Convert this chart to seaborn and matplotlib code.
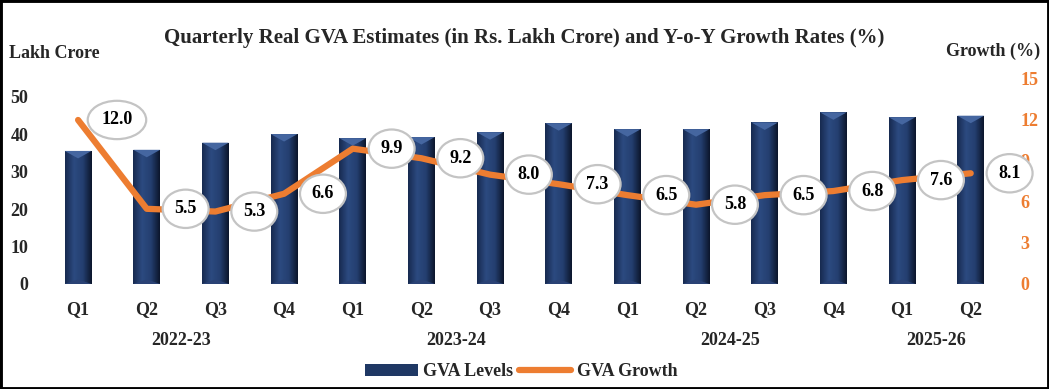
import numpy as np
import pandas as pd
import matplotlib
matplotlib.use("Agg")
import matplotlib.pyplot as plt
import seaborn as sns
from matplotlib.patches import Patch, Rectangle, Polygon
from matplotlib.lines import Line2D
from matplotlib.colors import LinearSegmentedColormap

# ---- data ----
quarters = ["Q1", "Q2", "Q3", "Q4", "Q1", "Q2", "Q3", "Q4",
            "Q1", "Q2", "Q3", "Q4", "Q1", "Q2"]
years = ["2022-23", "2023-24", "2024-25", "2025-26"]
quarters_per_year = [4, 4, 4, 2]
gva_levels = [35.5, 35.8, 37.7, 40.0, 38.9, 39.2, 40.5, 42.9,
              41.3, 41.3, 43.1, 45.8, 44.5, 44.9]
gva_growth = [12.0, 5.5, 5.3, 6.6, 9.9, 9.2, 8.0, 7.3,
              6.5, 5.8, 6.5, 6.8, 7.6, 8.1]

NAVY = "#1F3864"
ORANGE = "#ED7D31"
FONT = ["Liberation Serif", "DejaVu Serif"]

sns.set_theme(style="white")
plt.rcParams["font.family"] = FONT
plt.rcParams["font.weight"] = "bold"

df = pd.DataFrame({"idx": range(len(gva_levels)), "level": gva_levels,
                   "growth": gva_growth})

fig = plt.figure(figsize=(10.49, 3.89), dpi=100)
ax = fig.add_axes([0.0417, 0.27, 0.9164, 0.527])

sns.barplot(data=df, x="idx", y="level", color=NAVY, width=0.39,
            saturation=1, ax=ax, native_scale=False)
ax.set_ylim(0, 54.7)
ax.set_xlim(-0.5, len(gva_levels) - 0.5)

# gradient shading on bars
cmap = LinearSegmentedColormap.from_list(
    "bar", ["#172a50", "#2c4a80", "#243f70", "#0c162c"])
grad = np.linspace(0, 1, 64).reshape(1, -1)
for p in list(ax.patches):
    x0, y0 = p.get_x(), p.get_y()
    w, h = p.get_width(), p.get_height()
    im = ax.imshow(grad, cmap=cmap, aspect="auto",
                   extent=[x0, x0 + w, y0, y0 + h], zorder=p.get_zorder() + 0.1)
    im.set_clip_path(p)
    bev = 2.0
    tri = Polygon([[x0, y0 + h], [x0 + w, y0 + h], [x0 + w * 0.5, y0 + h - bev]],
                  closed=True, facecolor="#4566a0", edgecolor="none",
                  zorder=p.get_zorder() + 0.2)
    ax.add_patch(tri)
    tri2 = Polygon([[x0, y0], [x0 + w, y0], [x0 + w * 0.5, y0 + bev * 0.6]],
                   closed=True, facecolor="#2a4275", edgecolor="none",
                   zorder=p.get_zorder() + 0.2)
    ax.add_patch(tri2)

ax.set_xticks(range(len(quarters)))
ax.set_xticklabels(quarters, fontsize=13, fontweight="bold")
ax.tick_params(axis="x", length=0, pad=12)
ax.set_yticks([0, 10, 20, 30, 40, 50])
ax.tick_params(axis="y", length=0, pad=11, labelsize=13)
ax.set_xlabel("")
ax.set_ylabel("")
for s in ax.spines.values():
    s.set_visible(False)
ax.grid(False)

# year labels
start = 0
for yr, n in zip(years, quarters_per_year):
    center = start + (n - 1) / 2
    ax.text(center, -0.278, yr, transform=ax.get_xaxis_transform(),
            ha="center", va="center", fontsize=13, fontweight="bold")
    start += n

ax2 = ax.twinx()
sns.lineplot(data=df, x="idx", y="growth", color=ORANGE, linewidth=4.5,
             ax=ax2, legend=False)
ax2.set_ylim(0, 15)
ax2.set_xlim(-0.5, len(gva_levels) - 0.5)
ax2.set_yticks([0, 3, 6, 9, 12, 15])
ax2.tick_params(axis="y", length=0, pad=11, labelsize=13, labelcolor=ORANGE)
ax2.set_ylabel("")
ax2.set_xlabel("")
for s in ax2.spines.values():
    s.set_visible(False)
ax2.grid(False)

for i, g in enumerate(gva_growth):
    ax2.annotate(f"{g:.1f}", xy=(i, g), xytext=(28, 0),
                 textcoords="offset points", ha="center", va="center",
                 fontsize=13, fontweight="bold", color="black",
                 bbox=dict(boxstyle="ellipse,pad=0.28", fc="white",
                           ec="#C4C4C4", lw=1.6),
                 annotation_clip=False, zorder=5)

fig.text(0.5, 0.902, "Quarterly Real GVA Estimates (in Rs. Lakh Crore) and Y-o-Y Growth Rates (%)",
         ha="center", va="center", fontsize=15, fontweight="bold")
fig.text(0.009, 0.862, "Lakh Crore", ha="left", va="center",
         fontsize=13, fontweight="bold")
fig.text(0.992, 0.868, "Growth (%)", ha="right", va="center",
         fontsize=13, fontweight="bold")

handles = [Patch(facecolor=NAVY, edgecolor="none", label="GVA Levels"),
           Line2D([0], [0], color=ORANGE, lw=4.5, label="GVA Growth")]
leg = fig.legend(handles=handles, loc="center", bbox_to_anchor=(0.497, 0.044),
                 ncol=2, frameon=False, handlelength=2.9,
                 handletextpad=0.3, columnspacing=0.3,
                 prop={"weight": "bold", "size": 13, "family": FONT})

fig.add_artist(Rectangle((0, 0), 1, 1, transform=fig.transFigure,
                         fill=False, ec="black", lw=3.5, clip_on=False))

fig.savefig("out.png", dpi=100)
